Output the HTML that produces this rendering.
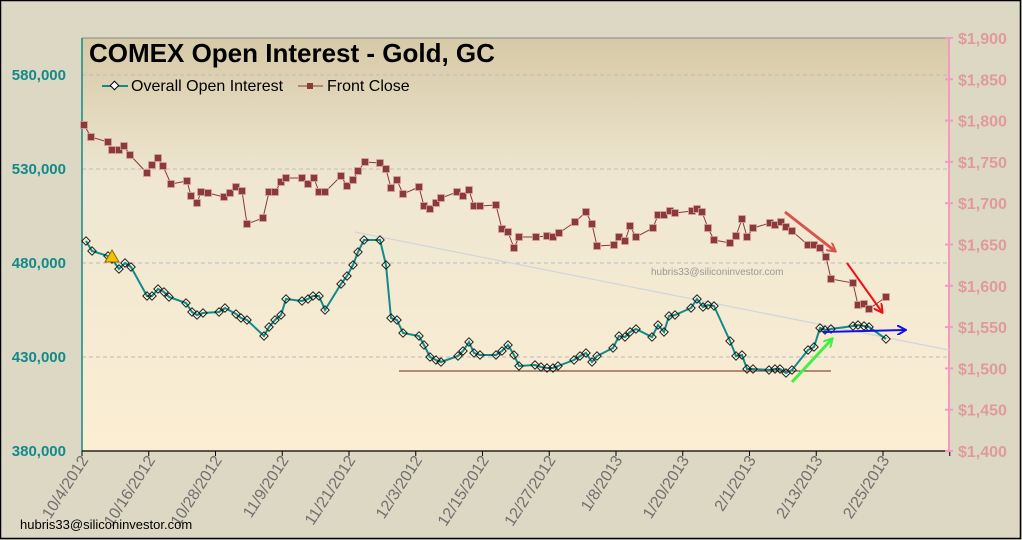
<!DOCTYPE html>
<html><head><meta charset="utf-8">
<style>
html,body{margin:0;padding:0;background:#ddd8c3;}
svg{display:block;font-family:"Liberation Sans",Arial,sans-serif;}
</style></head>
<body>
<svg id="s" width="1022" height="540" viewBox="0 0 1022 540" xmlns="http://www.w3.org/2000/svg">
<defs>
<linearGradient id="bg" x1="0" y1="0" x2="0" y2="1">
<stop offset="0" stop-color="#d6c9a6"/>
<stop offset="0.35" stop-color="#efe7d2"/>
<stop offset="1" stop-color="#fbeed3"/>
</linearGradient>
<marker id="ah" markerWidth="10" markerHeight="10" refX="8" refY="5" orient="auto" markerUnits="userSpaceOnUse">
<path d="M0,0 L9,5 L0,10" fill="none" stroke="context-stroke" stroke-width="2"/>
</marker>
</defs>
<rect x="0.5" y="0.5" width="1020" height="538" fill="#ddd8c3" stroke="#000" stroke-width="1.5"/>
<rect x="82" y="38" width="867" height="413" fill="url(#bg)"/>
<line x1="82" y1="38" x2="949" y2="38" stroke="#888" stroke-width="1"/>
<g stroke="#bbb" stroke-dasharray="4,3" stroke-width="1">
<line x1="82" y1="75" x2="949" y2="75"/><line x1="82" y1="169" x2="949" y2="169"/>
<line x1="82" y1="263" x2="949" y2="263"/><line x1="82" y1="357" x2="949" y2="357"/>
</g>
<line x1="82" y1="38" x2="82" y2="451" stroke="#128a8a" stroke-width="1.5"/>
<line x1="949" y1="38" x2="949" y2="451" stroke="#f49ac1" stroke-width="2"/>
<line x1="82" y1="451" x2="949" y2="451" stroke="#000" stroke-width="1.2"/>
<g font-size="15" font-weight="bold" fill="#128a8a" text-anchor="end">
<text x="66" y="80">580,000</text><text x="66" y="174">530,000</text>
<text x="66" y="268">480,000</text><text x="66" y="362">430,000</text><text x="66" y="456">380,000</text>
</g>
<g id="rt" font-size="16" font-weight="bold" fill="#e09a9a"></g>
<g id="xl" font-size="16" fill="#707070"></g>
<g id="tk" stroke="#000" stroke-width="1"></g>
<text x="89" y="62" font-size="26" font-weight="bold" fill="#000">COMEX Open Interest - Gold, GC</text>
<line x1="102" y1="86" x2="128" y2="86" stroke="#128a8a" stroke-width="2"/>
<rect x="111.5" y="82.5" width="6" height="6" transform="rotate(45 114.5 85.5)" fill="#fff" stroke="#000"/>
<text x="131" y="91" font-size="16" fill="#000">Overall Open Interest</text>
<line x1="298" y1="86" x2="323" y2="86" stroke="#8b3a3a" stroke-width="1"/>
<rect x="307" y="83" width="6" height="6" fill="#8b3a3a"/>
<text x="327" y="91" font-size="16" fill="#000">Front Close</text>
<line x1="355" y1="232" x2="949" y2="350" stroke="#d0d4dc" stroke-width="1.2"/>
<line x1="399" y1="371" x2="831" y2="371" stroke="#6b2a1a" stroke-width="1"/>
<polyline id="gold" fill="none" stroke="#8b3a3a" stroke-width="1"/>
<g id="gm"></g>
<polyline id="oi" fill="none" stroke="#128a8a" stroke-width="2"/>
<g id="om"></g>
<polygon points="112,250 105,262 119,262" fill="#f5c000" stroke="#8a6a00" stroke-width="1"/>
<text x="651" y="275" font-size="10" fill="#999">hubris33@siliconinvestor.com</text>
<text x="20" y="529" font-size="13" fill="#000">hubris33@siliconinvestor.com</text>
<line x1="785" y1="212" x2="835" y2="251" stroke="#d9534a" stroke-width="3" marker-end="url(#ah)"/>
<line x1="847" y1="263" x2="882" y2="312" stroke="#f01010" stroke-width="2" marker-end="url(#ah)"/>
<line x1="792" y1="382" x2="832" y2="339" stroke="#44ee44" stroke-width="3" marker-end="url(#ah)"/>
<line x1="823" y1="332" x2="905" y2="330" stroke="#1010ee" stroke-width="2" marker-end="url(#ah)"/>
</svg>
<script>
var NS="http://www.w3.org/2000/svg";
function el(p,t,a,txt){var e=document.createElementNS(NS,t);for(var k in a)e.setAttribute(k,a[k]);if(txt)e.textContent=txt;p.appendChild(e);return e;}
var rt=document.getElementById('rt');
["$1,900","$1,850","$1,800","$1,750","$1,700","$1,650","$1,600","$1,550","$1,500","$1,450","$1,400"].forEach(function(s,i){
 var y=38+i*41.3; el(rt,'text',{x:958,y:y+6},s);
 el(document.getElementById('s'),'line',{x1:945,y1:y,x2:953,y2:y,stroke:'#f49ac1','stroke-width':2});
});
var xl=document.getElementById('xl'),tk=document.getElementById('tk');
["10/4/2012","10/16/2012","10/28/2012","11/9/2012","11/21/2012","12/3/2012","12/15/2012","12/27/2012","1/8/2013","1/20/2013","2/1/2013","2/13/2013","2/25/2013",""].forEach(function(s,i){
 var x=82+i*66.75; el(tk,'line',{x1:x,y1:451,x2:x,y2:456});
 if(s) el(xl,'text',{x:x+7,y:460,'text-anchor':'end',transform:'rotate(-57 '+(x+7)+' 460)'},s);
});
var g=[[84,125],[91,137],[108,142],[112,150],[119,150],[124,146],[130,155],[147,173],[152,165],[158,158],[163,166],[171,184],[187,181],[191,196],[197,203],[201,192],[208,193],[224,197],[230,193],[236,187],[242,191],[247,224],[263,218],[269,192],[275,192],[281,182],[286,178],[302,178],[308,184],[314,178],[319,192],[325,192],[341,176],[347,186],[353,180],[358,171],[365,162],[380,163],[386,169],[391,188],[397,180],[403,194],[419,187],[424,206],[430,209],[436,203],[441,198],[457,192],[463,196],[469,190],[474,206],[480,206],[496,205],[502,229],[508,232],[514,248],[519,237],[536,237],[547,236],[553,237],[559,233],[575,222],[586,212],[592,224],[597,246],[614,245],[619,237],[625,241],[630,226],[636,237],[653,228],[658,215],[664,215],[670,211],[675,213],[692,211],[697,209],[702,212],[708,228],[714,240],[730,243],[736,236],[742,219],[747,237],[753,228],[770,223],[775,225],[781,222],[786,227],[792,231],[808,245],[814,245],[820,248],[826,257],[831,279],[853,283],[858,305],[864,304],[869,309],[886,297]];
var o=[[86,241],[92,251],[108,256],[112,259],[119,269],[125,263],[131,267],[147,296],[152,296],[158,289],[164,292],[169,297],[186,303],[192,312],[197,315],[203,313],[219,312],[225,308],[236,314],[241,318],[247,320],[264,336],[269,327],[275,320],[281,315],[286,299],[302,301],[308,299],[313,296],[319,296],[325,310],[341,284],[347,276],[353,265],[358,252],[364,240],[380,240],[386,265],[391,318],[397,320],[403,333],[419,336],[424,345],[430,357],[436,360],[441,362],[458,356],[463,351],[469,342],[474,353],[480,355],[496,355],[502,351],[508,345],[514,355],[519,366],[535,365],[541,367],[547,368],[553,368],[558,366],[574,360],[580,356],[586,353],[592,362],[597,356],[613,348],[619,336],[625,337],[630,332],[636,329],[652,337],[658,325],[664,332],[669,316],[675,315],[691,308],[697,299],[703,307],[708,305],[714,306],[730,341],[736,356],[742,355],[747,369],[753,369],[769,370],[775,369],[780,369],[786,373],[792,370],[808,350],[814,347],[820,328],[825,330],[831,329],[853,326],[858,325],[864,326],[869,327],[886,339]];
document.getElementById('gold').setAttribute('points',g.map(function(p){return p.join(',')}).join(' '));
document.getElementById('oi').setAttribute('points',o.map(function(p){return p.join(',')}).join(' '));
var gm=document.getElementById('gm'),om=document.getElementById('om');
g.forEach(function(p){el(gm,'rect',{x:p[0]-3.5,y:p[1]-3.5,width:7,height:7,fill:'#8b3a3a',stroke:'#d8a0a0','stroke-width':0.8});});
o.forEach(function(p){el(om,'rect',{x:p[0]-3,y:p[1]-3,width:6,height:6,fill:'none',stroke:'#111','stroke-width':0.9,transform:'rotate(45 '+p[0]+' '+p[1]+')'});});
</script>
</body></html>
